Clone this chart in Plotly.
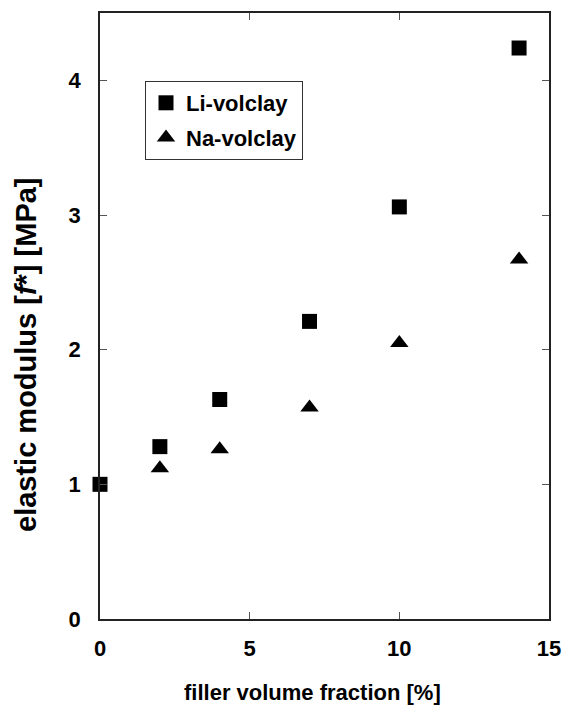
import plotly.graph_objects as go

# filler volume fraction [%]
li_fraction = [0, 2, 4, 7, 10, 14]
li_modulus = [1.00, 1.28, 1.63, 2.21, 3.06, 4.24]

na_fraction = [2, 4, 7, 10, 14]
na_modulus = [1.12, 1.26, 1.57, 2.05, 2.67]

x_ticks = [0, 5, 10, 15]
y_ticks = [0, 1, 2, 3, 4]

FONT = "Liberation Sans, Arial, sans-serif"
W, H = 566, 711
L, R, T, B = 100, 17, 13, 92

fig = go.Figure()
fig.add_trace(go.Scatter(
    x=li_fraction, y=li_modulus, mode="markers", name="Li-volclay",
    marker=dict(symbol="square", size=15, color="black"),
    cliponaxis=False, legendgroup="li",
))
fig.add_trace(go.Scatter(
    x=na_fraction, y=na_modulus, mode="markers", name="Na-volclay",
    marker=dict(symbol="triangle-up", size=16, color="black"),
    cliponaxis=False, legendgroup="na",
))

axis_common = dict(
    showgrid=False, zeroline=False, showline=True, linecolor="#222",
    linewidth=1.5, mirror="ticks", ticks="inside", ticklen=7,
    tickwidth=1, tickcolor="#555", automargin=False,
    tickfont=dict(family=FONT, size=22, color="black", weight="bold"),
)

fig.update_xaxes(range=[0, 15], tickvals=x_ticks, ticklabelstandoff=9, **axis_common)
fig.update_yaxes(range=[0, 4.5], tickvals=y_ticks, ticklabelstandoff=13, **axis_common)

plot_h = H - T - B
fig.add_annotation(
    text="elastic modulus [<i>f</i>*] [MPa]", textangle=-90,
    xref="paper", yref="paper", x=0, y=(H - B - 355) / plot_h,
    xshift=-(L - 26), xanchor="center", yanchor="middle", showarrow=False,
    font=dict(family=FONT, size=29, color="black", weight="bold"),
)
fig.add_annotation(
    text="filler volume fraction [%]",
    xref="paper", yref="paper", x=(312 - L) / (W - L - R), y=0,
    yshift=-(692 - (H - B)), xanchor="center", yanchor="middle", showarrow=False,
    font=dict(family=FONT, size=22, color="black", weight="bold"),
)

fig.update_layout(
    width=W, height=H,
    margin=dict(l=L, r=R, t=T, b=B, pad=0, autoexpand=False),
    paper_bgcolor="white", plot_bgcolor="white",
    showlegend=True,
    legend=dict(
        x=(145 - L) / (W - L - R), y=(H - B - 81) / plot_h,
        xanchor="left", yanchor="top",
        bordercolor="#333", borderwidth=1, bgcolor="white",
        font=dict(family=FONT, size=22, color="black", weight="bold"),
        tracegroupgap=3, itemsizing="trace", itemwidth=30,
    ),
)

fig.write_html("out.html")
